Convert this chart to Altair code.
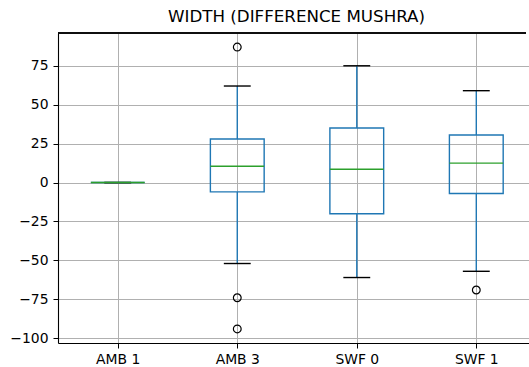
import altair as alt
import pandas as pd

categories = ["AMB 1", "AMB 3", "SWF 0", "SWF 1"]
positions = [1, 2, 3, 4]
whisker_low = [0, -52, -61, -57]
q1 = [0, -6, -20, -7]
median = [0, 10.5, 8.5, 12.5]
q3 = [0, 28, 35, 30.5]
whisker_high = [0, 62, 75, 59]

outlier_cat = ["AMB 3", "AMB 3", "AMB 3", "SWF 1"]
outlier_pos = [2, 2, 2, 4]
outlier_val = [87, -74, -94, -69]

y_ticks = [-100, -75, -50, -25, 0, 25, 50, 75]

BLUE = "#1f77b4"
GREEN = "#2ca02c"
HALF_BOX = 0.225
HALF_CAP = 0.1125
Y_MIN, Y_MAX = -103.05, 96.05

stats = pd.DataFrame({
    "cat": categories, "pos": positions, "lo": whisker_low, "q1": q1,
    "med": median, "q3": q3, "hi": whisker_high,
})
outliers = pd.DataFrame({"cat": outlier_cat, "pos": outlier_pos, "val": outlier_val})

label_expr = "[" + ",".join(f"'{c}'" for c in categories) + "][datum.value - 1]"

xscale = alt.Scale(domain=[0.5, 4.441], nice=False, zero=False)
yscale = alt.Scale(domain=[Y_MIN, Y_MAX], nice=False, zero=False)

xaxis = alt.Axis(values=positions, labelExpr=label_expr, title=None, grid=True,
                 gridColor="#b0b0b0", gridWidth=1, domainColor="black", domainWidth=1.1,
                 tickColor="black", tickSize=5, labelPadding=4, labelColor="black",
                 labelFont="DejaVu Sans", labelFontSize=13.9, labelAngle=0)
yaxis = alt.Axis(values=y_ticks, title=None, grid=True, gridColor="#b0b0b0", gridWidth=1,
                 domainColor="black", domainWidth=1.1, tickColor="black", tickSize=5,
                 labelPadding=5, labelColor="black", labelFont="DejaVu Sans",
                 labelFontSize=13.9, format="d")

base = alt.Chart(stats).transform_calculate(
    xl=f"datum.pos - {HALF_BOX}", xr=f"datum.pos + {HALF_BOX}",
    cl=f"datum.pos - {HALF_CAP}", cr=f"datum.pos + {HALF_CAP}",
)

top_spine = base.mark_rule(color="black", strokeWidth=1.1).encode(
    x=alt.value(0), x2=alt.value(468), y=alt.value(0)
)

whisk_up = base.mark_rule(color=BLUE, strokeWidth=1.4).encode(
    x=alt.X("pos:Q", scale=xscale, axis=xaxis), y=alt.Y("q3:Q", scale=yscale, axis=yaxis), y2="hi:Q")
whisk_dn = base.mark_rule(color=BLUE, strokeWidth=1.4).encode(
    x=alt.X("pos:Q", scale=xscale), y=alt.Y("lo:Q", scale=yscale), y2="q1:Q")
box = base.mark_rect(fill=None, stroke=BLUE, strokeWidth=1.4).encode(
    x=alt.X("xl:Q", scale=xscale), x2="xr:Q", y=alt.Y("q1:Q", scale=yscale), y2="q3:Q")
cap_hi = base.mark_rule(color="black", strokeWidth=1.4).encode(
    x=alt.X("cl:Q", scale=xscale), x2="cr:Q", y=alt.Y("hi:Q", scale=yscale))
cap_lo = base.mark_rule(color="black", strokeWidth=1.4).encode(
    x=alt.X("cl:Q", scale=xscale), x2="cr:Q", y=alt.Y("lo:Q", scale=yscale))
med = base.mark_rule(color=GREEN, strokeWidth=1.4).encode(
    x=alt.X("xl:Q", scale=xscale), x2="xr:Q", y=alt.Y("med:Q", scale=yscale))
fliers = alt.Chart(outliers).mark_point(shape="circle", filled=False, color="black",
                                        strokeWidth=1.2, size=60, opacity=1).encode(
    x=alt.X("pos:Q", scale=xscale), y=alt.Y("val:Q", scale=yscale))

chart = alt.layer(whisk_up, whisk_dn, box, cap_hi, cap_lo, med, fliers, top_spine).properties(
    width=471, height=310,
    title=alt.TitleParams("WIDTH (DIFFERENCE MUSHRA)", font="DejaVu Sans", fontSize=16.7,
                          fontWeight="normal", color="black", anchor="middle", dx=3, dy=16,
                          baseline="alphabetic", offset=10),
    autosize=alt.AutoSizeParams(type="none"),
    padding={"left": 58, "top": 33, "right": 0, "bottom": 24},
).configure(background="white").configure_view(strokeWidth=0, stroke="transparent")

chart.save("out.html", embed_options={"renderer": "svg", "actions": False})
